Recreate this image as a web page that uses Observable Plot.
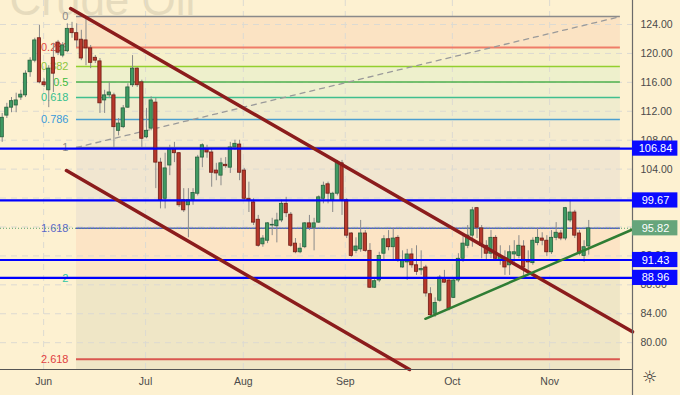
<!DOCTYPE html>
<html><head><meta charset="utf-8">
<script src="https://cdn.jsdelivr.net/npm/d3@7"></script>
<script src="https://cdn.jsdelivr.net/npm/@observablehq/plot@0.6"></script>
<style>
html,body{margin:0;padding:0;background:#fdf1d1;}
</style>
</head><body><div id="chart"></div>
<script>
// Daily candles (index = trading day)
const opens = [108.4,111.4,112.5,112.8,113.9,114.2,117.4,119.0,122.1,116.0,114.9,119.4,121.5,119.7,120.3,123.4,122.8,121.9,121.8,120.7,119.4,118.9,113.5,114.2,114.2,109.3,109.8,112.5,115.6,117.9,116.0,108.4,109.6,113.2,104.9,99.9,104.5,106.8,106.2,99.7,99.0,99.7,100.6,105.6,106.8,106.3,103.8,103.1,104.6,104.2,107.0,107.4,103.8,99.9,99.4,97.0,93.6,94.1,96.2,96.1,96.9,99.2,97.7,93.7,92.5,93.2,96.5,95.9,96.6,99.9,101.9,99.7,100.6,104.8,99.7,95.1,92.7,92.9,95.1,92.7,87.6,88.6,92.3,94.3,93.2,94.5,90.4,91.1,92.2,90.7,90.0,90.4,86.7,84.0,85.8,88.9,88.6,86.2,88.6,91.6,93.4,94.8,98.6,95.8,93.4,92.3,94.5,91.4,91.7,90.7,92.2,92.0,93.3,91.4,91.0,93.8,94.4,94.1,92.5,94.5,95.1,94.4,96.9,98.0,95.1,92.0,93.3];
const highs = [111.7,113.1,113.9,114.5,114.9,117.6,119.4,122.1,123.9,116.5,118.3,121.4,121.8,121.5,124.1,124.3,124.1,123.2,125.1,121.1,119.7,119.3,114.9,116.0,114.5,111.0,112.8,115.8,119.7,118.0,116.3,112.4,114.0,113.8,105.5,106.2,107.3,107.7,106.3,101.3,101.3,101.3,105.9,107.5,107.3,106.8,104.8,105.5,105.6,107.7,108.0,108.0,104.1,102.2,99.9,97.6,94.8,96.6,97.2,97.9,99.7,100.1,98.0,94.4,93.7,96.6,97.6,97.2,100.3,102.2,102.2,100.8,105.2,105.2,99.9,95.2,94.5,96.9,95.5,93.7,89.0,92.5,94.8,95.5,95.8,94.8,92.7,92.9,93.0,93.4,92.7,90.7,87.6,86.2,89.3,90.0,88.9,88.9,92.3,94.7,96.2,98.7,98.7,96.2,94.1,95.5,94.8,93.4,92.7,93.4,94.1,94.8,94.1,92.7,94.5,95.8,95.2,94.8,95.5,96.6,95.5,98.7,99.7,98.3,95.5,94.1,96.9];
const lows = [107.7,111.0,111.8,111.8,113.5,113.9,116.7,118.7,115.8,115.3,112.5,114.6,119.7,119.4,120.1,122.1,120.8,119.0,118.3,117.9,118.6,111.7,111.7,113.8,107.0,108.6,109.6,112.4,115.3,115.3,107.0,108.2,109.3,101.3,98.5,98.5,103.1,104.9,98.7,98.0,94.5,99.0,100.3,104.2,105.5,101.5,102.4,101.7,104.1,103.4,106.6,102.4,99.7,98.0,96.2,93.2,93.2,93.7,94.8,93.8,96.6,97.3,93.2,92.3,92.3,93.0,95.5,92.7,96.5,99.2,99.2,98.0,100.3,97.6,94.4,91.8,92.3,92.5,92.5,87.5,87.5,88.3,91.4,92.7,91.4,91.1,90.3,88.6,90.3,89.3,89.3,86.3,83.5,83.5,85.6,88.2,84.4,86.1,88.3,91.1,93.0,93.2,94.4,91.6,91.4,91.6,91.4,90.7,89.3,89.3,91.1,91.6,89.3,90.0,90.7,93.4,93.4,91.9,92.2,94.1,94.1,94.1,96.6,94.4,92.0,91.1,92.1];
const closes = [111.1,112.5,113.4,113.5,114.3,117.2,119.0,121.8,116.0,115.6,117.9,117.2,120.1,121.1,123.4,122.8,121.8,119.3,120.7,118.7,119.0,113.1,114.2,114.6,109.8,110.3,112.4,115.3,117.9,115.6,108.2,109.3,113.5,104.9,99.7,104.1,106.8,106.2,99.0,98.3,99.7,100.7,105.6,107.3,106.3,103.5,103.4,104.8,104.4,107.0,107.5,103.5,99.9,99.7,96.6,93.4,94.4,96.5,96.3,96.9,99.2,97.9,93.4,92.5,93.0,96.5,95.9,96.5,100.1,101.7,100.6,100.6,104.9,99.7,94.8,92.0,93.3,95.1,92.7,87.6,88.5,92.0,94.3,93.2,94.4,91.4,91.4,92.2,90.7,89.8,90.2,86.8,83.8,85.5,89.0,88.3,84.7,88.6,91.6,93.7,94.8,98.3,95.9,93.4,92.3,94.5,91.6,91.9,90.4,92.5,92.5,93.4,90.4,91.1,94.1,94.5,94.1,92.5,94.5,95.2,94.4,98.6,98.0,94.8,92.3,93.2,95.8];

// Axis ticks
const monthTicks = [8.9, 30.8, 51.8, 73.7, 96.7, 117.6];
const monthLabels = ["Jun","Jul","Aug","Sep","Oct","Nov"];
const gridPrices = [80,84,88,92,96,100,104,108,112,116,120,124];
// price labels visible on the axis (100 and 96 sit fully under the level boxes)
const priceTicks = [80,84,88,92,104,108,112,116,120,124];

// Horizontal levels
const levelPrices = [106.84, 99.67, 91.43, 88.96];
const lastPrice = 95.82;

// Fibonacci retracement
const fibP0 = 125.1, fibP1 = 107.0;
const fibStart = 15.96, fibEnd = 132.8;
const fibRatios = [0, 0.236, 0.382, 0.5, 0.618, 0.786, 1, 1.618, 2, 2.618];
const fibLabels = ["0","0.236","0.382","0.5","0.618","0.786","1","1.618","2","2.618"];
const fibLineColors = ["#8a8a8a","#ef7c68","#93cf2e","#4cb04c","#3fbf8f","#4a9fd0","#8a8a8a","#5060c4","#33c2b0","#d9574f"];
const fibLabelColors = ["#8a8a8a","#e2483c","#8ec63f","#3dbb3d","#35c08e","#3a9ad9","#8a8a8a","#5a68c8","#2ec6a6","#e04040"];
const fibZoneColors = ["#fbe3c3","#f6f0cb","#eef0cc","#eff0cf","#f0ecce","#f5ebcf","#f1e6d0","#fce4c5","#efe6c6"];

// Trend lines (index, price)
const redLine1 = [[14.7, 126.2], [135.4, 81.5]];
const redLine2 = [[13.8, 103.8], [87.5, 76.29]];
const greenLine = [[90.9, 83.3], [135.4, 95.65]];

const xDomain = [-0.365, 135.4];
const yDomain = [76.29, 127.32];

const candles = opens.map((o, i) => ({i, o, h: highs[i], l: lows[i], c: closes[i], up: closes[i] >= o}));
const fibs = fibRatios.map((r, k) => ({r, p: fibP0 + r * (fibP1 - fibP0), label: fibLabels[k], lc: fibLineColors[k], tc: fibLabelColors[k]}));
const zones = fibs.slice(0, -1).map((f, k) => ({p1: f.p, p2: fibs[k + 1].p, fill: fibZoneColors[k]}));
zones.push({p1: fibs[fibs.length - 1].p, p2: yDomain[0], fill: fibZoneColors[fibZoneColors.length - 1]});
const diag = [{x: fibStart, y: fibP1}, {x: fibEnd, y: fibP0}];
const levels = levelPrices.map(p => ({p, fill: "#0a0aff"}));
const boxes = [...levels, {p: lastPrice, fill: "#66a57b"}];
const toPts = a => a.map(([x, y]) => ({x, y}));
const boxW = 9.75, boxH = 1.05;

const chart = Plot.plot({
  width: 680, height: 395,
  marginLeft: 0, marginRight: 48, marginTop: 0, marginBottom: 26,
  style: {background: "#fdf1d1", fontFamily: "'Liberation Sans', Arial, sans-serif", fontSize: "10.5px", color: "#4a4a4a"},
  x: {type: "linear", domain: xDomain, ticks: monthTicks, tickFormat: d => monthLabels[monthTicks.indexOf(d)], tickSize: 0, tickPadding: 8, label: null},
  y: {type: "linear", domain: yDomain, ticks: priceTicks, tickFormat: d => d.toFixed(2), tickSize: 0, tickPadding: 8, axis: "right", label: null},
  marks: [
    Plot.text(["Crude Oil"], {frameAnchor: "top-left", dx: 9, dy: 0, lineAnchor: "middle", textAnchor: "start", fontSize: 44, fill: "#e6dbbd", text: d => d}),
    Plot.rect(zones, {x1: () => fibStart, x2: () => fibEnd, y1: "p1", y2: "p2", fill: "fill"}),
    Plot.ruleX(monthTicks, {stroke: "#dcdad2", strokeDasharray: "6,5", strokeWidth: 1}),
    Plot.ruleY(gridPrices, {stroke: "#dcdad2", strokeDasharray: "6,5", strokeWidth: 1}),
    Plot.ruleY(fibs, {y: "p", x1: () => fibStart, x2: () => fibEnd, stroke: "lc", strokeWidth: d => d.r === 0.236 || d.r === 2.618 ? 2 : 1.4}),
    Plot.text(fibs, {y: "p", x: () => fibStart, dx: -8, text: "label", fill: "tc", textAnchor: "end", fontSize: 11}),
    Plot.line(diag, {x: "x", y: "y", stroke: "#9a9a9a", strokeWidth: 1.3, strokeDasharray: "5,5"}),
    Plot.ruleY([lastPrice], {x1: xDomain[0], x2: xDomain[1], stroke: "#5aa06e", strokeDasharray: "1,2", strokeWidth: 1}),
    Plot.ruleX(candles, {x: "i", y1: "l", y2: "h", stroke: "#8a8a8a", strokeWidth: 1}),
    Plot.rect(candles, {x1: d => d.i - 0.35, x2: d => d.i + 0.35, y1: d => Math.min(d.o, d.c), y2: d => Math.max(d.o, d.c), fill: d => d.up ? "#3f9a62" : "#b8382b", stroke: d => d.up ? "#27613d" : "#6e1c15", strokeWidth: 0.8}),
    Plot.ruleY(levels, {y: "p", x1: xDomain[0], x2: xDomain[1], stroke: "#0000ff", strokeWidth: 2.2}),
    Plot.line(toPts(redLine1), {x: "x", y: "y", stroke: "#8b1c1c", strokeWidth: 3.5}),
    Plot.line(toPts(redLine2), {x: "x", y: "y", stroke: "#8b1c1c", strokeWidth: 3.5}),
    Plot.line(toPts(greenLine), {x: "x", y: "y", stroke: "#2f7d34", strokeWidth: 2.5}),
    Plot.ruleY([yDomain[0]], {x1: xDomain[0], x2: xDomain[1], stroke: "#555", strokeWidth: 1.2}),
    Plot.ruleX([xDomain[1]], {y1: yDomain[0] - 3.6, y2: yDomain[1], stroke: "#6a6a6a", strokeWidth: 1.2}),
    Plot.rect(boxes, {x1: () => xDomain[1], x2: () => xDomain[1] + boxW, y1: d => d.p - boxH, y2: d => d.p + boxH, fill: "fill"}),
    Plot.text(boxes, {x: () => xDomain[1], dx: 23, y: "p", text: d => d.p.toFixed(2), fill: "white", fontSize: 11}),
    Plot.text(["\u263C"], {frameAnchor: "bottom-right", dx: 25, dy: 13, fontSize: 17, fill: "#333", fontFamily: "DejaVu Sans", text: d => d})
  ]
});
document.getElementById("chart").appendChild(chart);
</script>
</body></html>
